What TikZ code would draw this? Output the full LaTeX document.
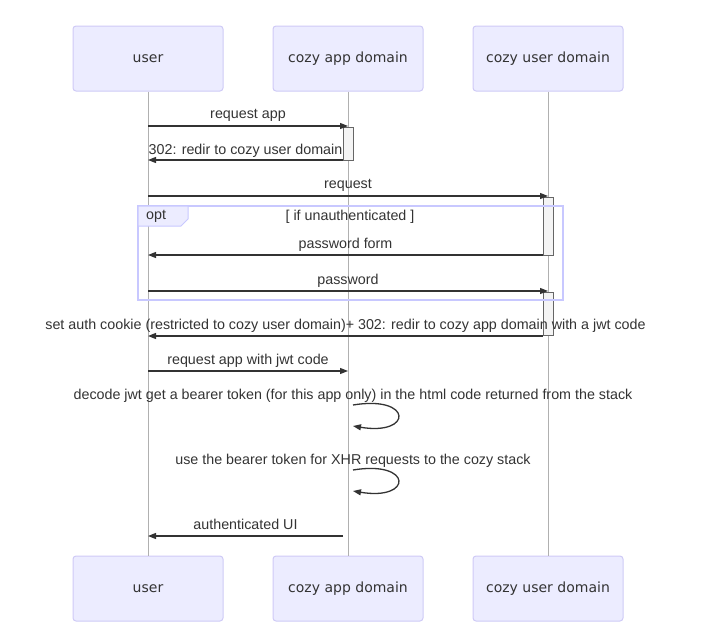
\documentclass[tikz,border=0pt]{standalone}
\usepackage{fontspec}
\usepackage{xcolor}
\setmainfont{Liberation Sans}
\newfontfamily\actorfont{DejaVu Sans}
\usetikzlibrary{arrows.meta}
\definecolor{actorfill}{HTML}{ECECFF}
\definecolor{actorline}{HTML}{CFCAF6}
\definecolor{optline}{HTML}{C8C8FF}
\definecolor{msgline}{HTML}{333333}
\definecolor{lifeline}{HTML}{B0B0B0}
\definecolor{actfill}{HTML}{F4F4F4}
\definecolor{actline}{HTML}{666666}

\begin{document}
\begin{tikzpicture}[x=1pt,y=-1pt,
    actor/.style={draw=actorline, fill=actorfill, line width=1pt, rounded corners=3pt,
        minimum width=150pt, minimum height=65pt, inner sep=0pt,
        font=\actorfont\fontsize{14}{16}\selectfont, text=msgline},
    actbox/.style={draw=actline, fill=actfill, line width=0.8pt,
        minimum width=10pt, inner sep=0pt, anchor=north},
    msg/.style={draw=msgline, line width=1.3pt, -{Triangle[length=8pt,width=6pt]}},
    lbl/.style={font=\fontsize{14.3}{16}\selectfont, text=msgline, inner sep=0pt},
    life/.style={draw=lifeline, line width=0.8pt}]
            \useasboundingbox (0,0) rectangle (709,632);
            % actors, top and bottom
            \node[actor] (user) at (148,58.5) {user};
            \node[actor] (app) at (348,58.5) {cozy app domain};
            \node[actor] (dom) at (548,58.5) {cozy user domain};
            \node[actor] (userB) at (148,588.5) {user};
            \node[actor] (appB) at (348,588.5) {cozy app domain};
            \node[actor] (domB) at (548,588.5) {cozy user domain};
            % lifelines
            \draw[life] (user) -- (userB);
            \draw[life] (app) -- (appB);
            \draw[life] (dom) -- (domB);
            % activations
            \node[actbox, minimum height=33pt] (actA) at (348,127) {};
            \node[actbox, minimum height=58pt] (actB) at (548,197) {};
            \node[actbox, minimum height=43pt] (actC) at (548,292) {};
            % messages
            \draw[msg] (user |- 0,126) -- (app |- 0,126);
            \node[lbl] (m1) at (248,115.5) {request app};
            \draw[msg] (actA.west |- 0,160) -- (user |- 0,160);
            \node[lbl] (m2) at (245.5,150.5) {302: redir to cozy user domain};
            \draw[msg] (user |- 0,196) -- (dom |- 0,196);
            \node[lbl] (m3) at (348,185.5) {request};
            \draw[msg] (actB.west |- 0,255) -- (user |- 0,255);
            \node[lbl] (m4) at (345.5,244.5) {password form};
            \draw[msg] (user |- 0,291) -- (dom |- 0,291);
            \node[lbl] (m5) at (348,280.5) {password};
            \draw[msg] (actC.west |- 0,336) -- (user |- 0,336);
            \node[lbl] (m6) at (345.5,325.5) {set auth cookie (restricted to cozy user domain)+ 302: redir to cozy app domain with a jwt code};
            \draw[msg] (user |- 0,371) -- (app |- 0,371);
            \node[lbl] (m7) at (248,360.5) {request app with jwt code};
            % self messages
            \coordinate (s1) at (353,405);
            \coordinate (e1) at (353,426);
            \draw[msg] (s1) .. controls (413,395) and (413,436) .. (e1);
            \node[lbl] (m8) at (353,395.5) {decode jwt get a bearer token (for this app only) in the html code returned from the stack};
            \coordinate (s2) at (353,470);
            \coordinate (e2) at (353,491);
            \draw[msg] (s2) .. controls (413,460) and (413,501) .. (e2);
            \node[lbl] (m9) at (353,460.5) {use the bearer token for XHR requests to the cozy stack};
            \coordinate (u1) at (343,536);
            \draw[msg] (u1) -- (user |- 0,536);
            \node[lbl] (m10) at (245.5,524.5) {authenticated UI};
            % opt frame
            \draw[optline, line width=1.3pt] (138,206) rectangle (563,300);
            \filldraw[draw=optline, fill=actorfill, line width=1pt]
                (138,206) -- (188,206) -- (188,219) -- (181,226) -- (138,226) -- cycle;
            \node[lbl, anchor=west] (optL) at (146,216.5) {opt};
            \node[lbl] (optC) at (350,216.5) {[ if unauthenticated ]};
\end{tikzpicture}
\end{document}
